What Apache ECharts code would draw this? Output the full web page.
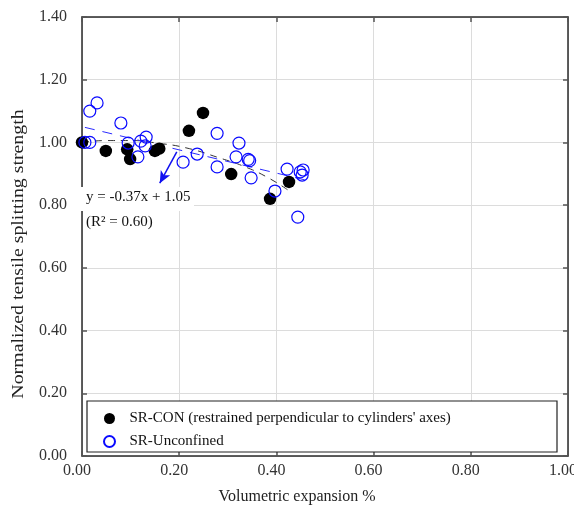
<!DOCTYPE html>
<html><head><meta charset="utf-8">
<script src="https://cdn.jsdelivr.net/npm/echarts@6/dist/echarts.min.js"></script>
<style>html,body{margin:0;padding:0;background:#fff}#c{width:574px;height:510px}</style>
</head><body><div id="c"></div>
<script>
// Data
const srConName = "SR-CON (restrained perpendicular to cylinders' axes)";
const srUnconName = "SR-Unconfined";
const srCon = [[0.000,1.000],[0.049,0.973],[0.093,0.978],[0.099,0.947],[0.150,0.973],[0.159,0.980],[0.220,1.037],[0.249,1.094],[0.307,0.899],[0.387,0.820],[0.426,0.874]];
const srUncon = [[0.006,1.000],[0.016,1.000],[0.016,1.100],[0.031,1.126],[0.080,1.062],[0.095,0.998],[0.115,0.954],[0.121,1.004],[0.132,1.017],[0.130,0.989],[0.208,0.937],[0.237,0.963],[0.278,1.029],[0.278,0.922],[0.317,0.954],[0.323,0.998],[0.342,0.946],[0.345,0.942],[0.348,0.887],[0.397,0.845],[0.422,0.915],[0.444,0.762],[0.449,0.906],[0.455,0.912],[0.453,0.896]];
const conTrend = [[0.000,1.000],[0.05,1.006],[0.10,1.006],[0.154,0.998],[0.216,0.982],[0.284,0.950],[0.331,0.925],[0.38,0.890],[0.424,0.848]];
const unconTrend = [[0.006,1.048],[0.460,0.880]];
const arrowFrom = [0.195,0.970];
const arrowTo = [0.160,0.870];
const eqText = "y = -0.37x + 1.05";
const r2Text = "(R\u00b2 = 0.60)";
const xTitle = "Volumetric expansion %";
const yTitle = "Normalized tensile splitting strength";

const FONT = "'Liberation Serif','Times New Roman',serif";
const chart = echarts.init(document.getElementById('c'), null, {renderer:'canvas'});
const axisCommon = {
  type:'value',
  axisLine:{show:true,onZero:false,lineStyle:{color:'#2a2a2a',width:1.5}},
  axisTick:{show:true,inside:true,length:5,lineStyle:{color:'#555',width:1.5}},
};
chart.setOption({
  animation:false,
  backgroundColor:'#fff',
  grid:{left:82,right:6,top:17,bottom:54,containLabel:false,outerBoundsMode:'none'},
  xAxis:[
    Object.assign({},axisCommon,{min:0,max:1,interval:0.2,position:'bottom',
      splitLine:{show:true,lineStyle:{color:'#dcdcdc',width:1}},
      axisLabel:{formatter:v=>v.toFixed(2),fontFamily:FONT,fontSize:16,color:'#333',margin:7,padding:[0,10,0,0]}}),
    Object.assign({},axisCommon,{min:0,max:1,interval:0.2,position:'top',
      splitLine:{show:false},axisLabel:{show:false}})
  ],
  yAxis:[
    Object.assign({},axisCommon,{min:0,max:1.4,interval:0.2,position:'left',
      splitLine:{show:true,lineStyle:{color:'#dcdcdc',width:1}},
      axisLabel:{formatter:v=>v.toFixed(2),fontFamily:FONT,fontSize:16,color:'#333',margin:15,padding:[0,0,6,0]}}),
    Object.assign({},axisCommon,{min:0,max:1.4,interval:0.2,position:'right',
      splitLine:{show:false},axisLabel:{show:false}})
  ],
  legend:{
    orient:'vertical',left:103,top:411,itemWidth:30,itemHeight:11,itemGap:8,z:20,padding:0,
    textStyle:{fontFamily:FONT,fontSize:15,color:'#111'},
    data:[{name:srConName},{name:srUnconName}]
  },
  series:[
    {name:'conTrend',type:'line',data:conTrend,smooth:true,symbol:'none',z:3,
      lineStyle:{color:'#333',width:1,type:[7,6]},silent:true},
    {name:'unconTrend',type:'line',data:unconTrend,symbol:'none',z:3,
      lineStyle:{color:'#2b2bff',width:1,type:[10,8]},silent:true,
      markLine:{silent:true,symbolSize:[8,12],lineStyle:{color:'#1010f0',width:1.5,type:'solid'},label:{show:false},
        data:[[{coord:arrowFrom,symbol:'none'},{coord:arrowTo,symbol:'arrow'}]]}},
    {name:srConName,type:'scatter',data:srCon,symbol:'circle',symbolSize:12.5,z:4,
      itemStyle:{color:'#000',borderColor:'#000',borderWidth:0,opacity:1}},
    {name:srUnconName,type:'scatter',data:srUncon,symbol:'circle',symbolSize:12,z:5,
      itemStyle:{color:'rgba(255,255,255,0)',borderColor:'#0a0aff',borderWidth:1.2,opacity:1}}
  ],
  graphic:[
    {type:'rect',z:10,shape:{x:87,y:401,width:470,height:51},style:{fill:'#fff',stroke:'#222',lineWidth:1.2}},
    {type:'rect',z:10,shape:{x:79,y:187,width:115,height:24},style:{fill:'#fff'}},
    {type:'text',z:11,x:86,y:197,style:{text:eqText,font:'15px '+FONT,fill:'#111',textVerticalAlign:'middle'}},
    {type:'text',z:11,x:86,y:222,style:{text:r2Text,font:'15px '+FONT,fill:'#111',textVerticalAlign:'middle'}},
    {type:'text',z:11,x:297,y:497,style:{text:xTitle,font:'16px '+FONT,fill:'#222',textAlign:'center',textVerticalAlign:'middle'}},
    {type:'text',z:11,x:19,y:254,rotation:Math.PI/2,scaleX:1.24,style:{text:yTitle,font:'16px '+FONT,fill:'#222',textAlign:'center',textVerticalAlign:'middle'}}
  ]
});
</script></body></html>
